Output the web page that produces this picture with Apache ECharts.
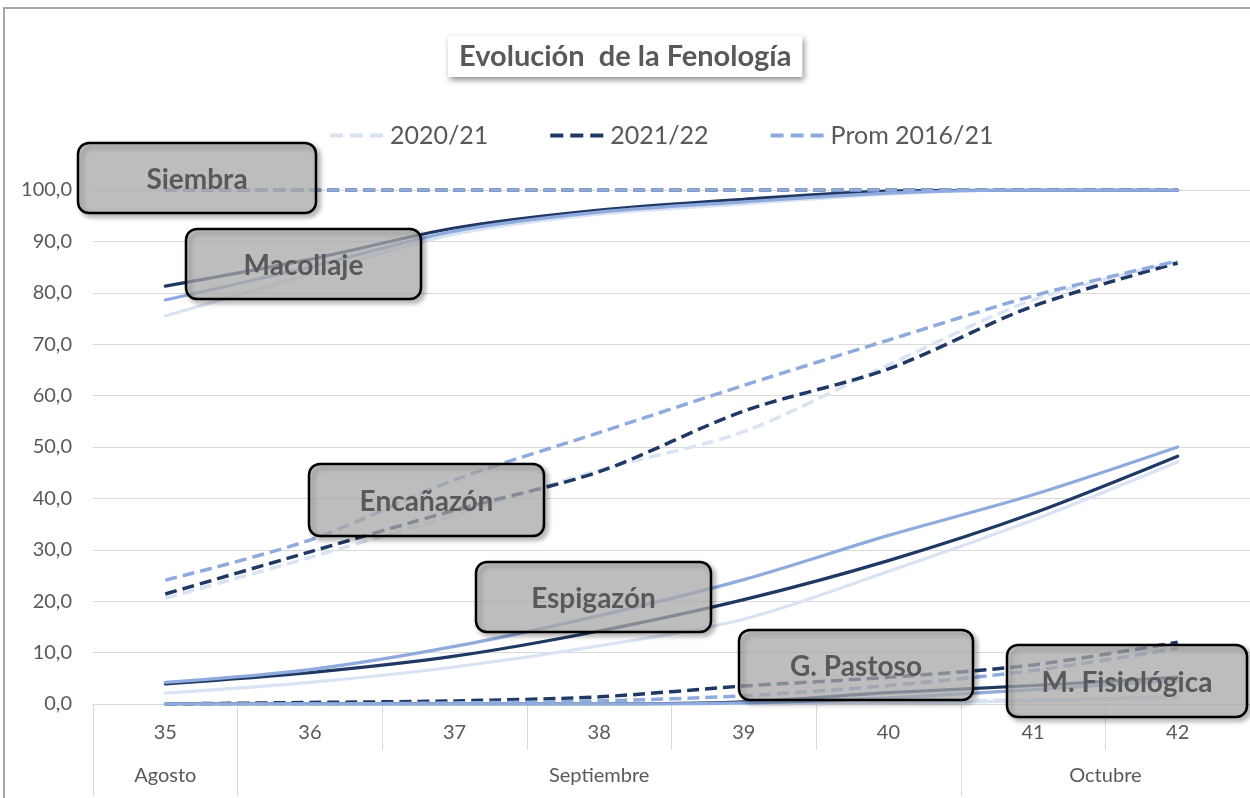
<!DOCTYPE html>
<html>
<head>
<meta charset="utf-8">
<script src="https://cdn.jsdelivr.net/npm/echarts@6/dist/echarts.min.js"></script>
<style>
html,body{margin:0;padding:0;background:#fff;}
#chart{width:1250px;height:798px;}
</style>
</head>
<body>
<div id="chart"></div>
<script>
// ---- data ----
const weeks = ['35','36','37','38','39','40','41','42'];
const monthNames = ['Agosto','Septiembre','Octubre'];
const monthWeekCounts = [1, 5, 2];
const seriesNames = ['2020/21','2021/22','Prom 2016/21'];
const yTicks = [0,10,20,30,40,50,60,70,80,90,100];

const siembra2021 = [100,100,100,100,100,100,100,100];
const siembra2122 = [100,100,100,100,100,100,100,100];
const siembraProm = [100,100,100,100,100,100,100,100];

const macollaje2021 = [75.5, 83.6, 91.4, 95.3, 97.3, 99.2, 100, 100];
const macollaje2122 = [81.3, 86.5, 92.6, 96.1, 98.2, 99.8, 100, 100];
const macollajeProm = [78.6, 85.0, 92.0, 95.7, 97.7, 99.4, 100, 100];

const encanazon2021 = [20.6, 28.5, 36.8, 45.5, 53.0, 66.0, 78.6, 86.0];
const encanazon2122 = [21.4, 29.6, 37.7, 45.2, 57.0, 65.2, 77.4, 85.8];
const encanazonProm = [24.1, 31.9, 43.6, 52.8, 62.0, 70.8, 79.4, 86.2];

const espigazon2021 = [2.1, 4.2, 7.2, 11.3, 16.5, 25.8, 35.8, 47.1];
const espigazon2122 = [3.9, 6.1, 9.3, 14.2, 20.3, 27.9, 37.1, 48.2];
const espigazonProm = [4.2, 6.7, 11.2, 17.2, 24.2, 32.8, 40.7, 50.0];

const pastoso2021 = [0, 0, 0, 0, 0.2, 0.5, 0.8, 1.2];
const pastoso2122 = [0, 0.3, 0.6, 1.4, 3.5, 5.2, 7.6, 12.0];
const pastosoProm = [0, 0, 0.2, 0.6, 1.6, 3.6, 6.5, 10.8];

const fisiologica2021 = [0, 0, 0, 0, 0, 0.2, 0.6, 1.5];
const fisiologica2122 = [0, 0, 0, 0, 0.4, 2.2, 3.6, 5.2];
const fisiologicaProm = [0, 0, 0, 0, 0.2, 1.2, 2.8, 4.6];

const stageNames = ['Siembra','Macollaje','Encañazón','Espigazón','G. Pastoso','M. Fisiológica'];
const stageDashed = [true, false, true, false, true, false];
const stageData = [
  [siembra2021, siembra2122, siembraProm],
  [macollaje2021, macollaje2122, macollajeProm],
  [encanazon2021, encanazon2122, encanazonProm],
  [espigazon2021, espigazon2122, espigazonProm],
  [pastoso2021, pastoso2122, pastosoProm],
  [fisiologica2021, fisiologica2122, fisiologicaProm]
];

// ---- styling / layout ----
const colors = ['#DAE3F3', '#203864', '#8FAADC'];
const dashPattern = [12, 6];
const FONT = 'Lato';
const TXT = '#595959';
const GRIDC = '#d9d9d9';
const legendDashIcon = 'path://M0,0h13v4h-13z M20,0h13v4h-13z M40,0h13v4h-13z';

// annotation boxes (layout, pixels)
const boxLayout = [
  [78, 143, 238, 70],
  [186, 229, 235, 70],
  [309, 464, 235, 72],
  [476, 562, 235, 70],
  [739, 630, 234, 70],
  [1007, 645, 240, 72]
];

const series = [];
stageData.forEach((st, si) => {
  st.forEach((vals, yi) => {
    series.push({
      name: seriesNames[yi],
      type: 'line',
      data: vals,
      symbol: 'none',
      smooth: 0.3,
      z: 2 + yi,
      silent: true,
      lineStyle: {
        color: colors[yi],
        width: stageDashed[si] ? 3.5 : 3.2,
        type: stageDashed[si] ? dashPattern : 'solid',
        cap: stageDashed[si] ? 'butt' : 'round'
      },
      itemStyle: { color: colors[yi] },
      emphasis: { disabled: true }
    });
  });
});

// month axis: value axis in "week" units
let acc = 0;
const monthBounds = [0];
const monthCenters = [];
monthWeekCounts.forEach(c => { monthCenters.push(acc + c / 2); acc += c; monthBounds.push(acc); });

const graphics = [{
  type: 'rect', silent: true, z: 0,
  shape: { x: 4, y: 8, width: 1300, height: 850 },
  style: { fill: 'none', stroke: '#a6a6a6', lineWidth: 2 }
}];
stageNames.forEach((nm, i) => {
  const b = boxLayout[i];
  graphics.push({
    type: 'rect', silent: true, z: 100,
    shape: { x: b[0], y: b[1], width: b[2], height: b[3], r: 11 },
    style: {
      fill: 'rgba(185,185,185,0.68)',
      stroke: '#000', lineWidth: 2.5,
      shadowBlur: 5, shadowOffsetX: 3, shadowOffsetY: 3, shadowColor: 'rgba(0,0,0,0.35)'
    }
  });
  graphics.push({
    type: 'text', silent: true, z: 101,
    x: b[0] + b[2] / 2, y: b[1] + b[3] / 2 + 2,
    style: {
      text: nm, fill: TXT, fontFamily: FONT, fontWeight: 'bold', fontSize: 28,
      align: 'center', verticalAlign: 'middle',
      shadowBlur: 3, shadowColor: 'rgba(0,0,0,0.3)', shadowOffsetX: 1, shadowOffsetY: 1
    }
  });
});

const chart = echarts.init(document.getElementById('chart'), null, { renderer: 'canvas' });
chart.setOption({
  animation: false,
  backgroundColor: '#fff',
  title: {
    text: 'Evolución  de la Fenología',
    left: 448, top: 36,
    padding: [6, 11, 6, 11],
    backgroundColor: '#fff',
    shadowBlur: 6, shadowColor: 'rgba(0,0,0,0.45)', shadowOffsetX: 2, shadowOffsetY: 3,
    textStyle: { fontFamily: FONT, fontWeight: 'bold', fontSize: 29, color: TXT }
  },
  legend: {
    data: seriesNames,
    icon: legendDashIcon,
    left: 325, top: 118,
    itemWidth: 53, itemHeight: 4, itemGap: 62,
    selectedMode: false,
    textStyle: { fontFamily: FONT, fontSize: 25, color: TXT, padding: [0, 0, 0, 2] }
  },
  grid: { left: 93, right: 0, top: 190, bottom: 94, containLabel: false },
  xAxis: [{
    type: 'category',
    data: weeks,
    boundaryGap: true,
    axisLine: { show: true, lineStyle: { color: GRIDC, width: 1 } },
    axisTick: { show: true, interval: 0, length: 46, lineStyle: { color: GRIDC, width: 1 } },
    axisLabel: { fontFamily: FONT, fontSize: 20, color: TXT, margin: 19, interval: 0 },
    splitLine: { show: false }
  }, {
    type: 'value',
    min: 0, max: acc,
    position: 'bottom',
    offset: 46,
    axisLine: { show: false },
    splitLine: { show: false },
    axisTick: { show: true, length: 46, customValues: monthBounds, lineStyle: { color: GRIDC, width: 1 } },
    axisLabel: {
      fontFamily: FONT, fontSize: 20, color: TXT, margin: 16,
      customValues: monthCenters,
      formatter: v => { const i = monthCenters.indexOf(v); return i >= 0 ? monthNames[i] : ''; }
    }
  }],
  yAxis: {
    type: 'value',
    min: 0, max: 100, interval: 10,
    axisLine: { show: false },
    axisTick: { show: false },
    splitLine: { show: true, lineStyle: { color: GRIDC, width: 1 } },
    axisLabel: {
      fontFamily: FONT, fontSize: 20, color: TXT, margin: 21,
      formatter: v => yTicks.indexOf(v) >= 0 ? v.toFixed(1).replace('.', ',') : ''
    }
  },
  series: series,
  graphic: graphics
});
</script>
</body>
</html>
